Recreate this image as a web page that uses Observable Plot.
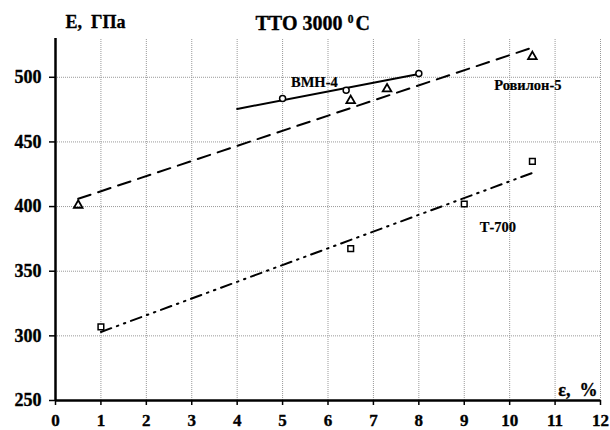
<!DOCTYPE html>
<html><head><meta charset="utf-8">
<script src="https://cdn.jsdelivr.net/npm/d3@7"></script>
<script src="https://cdn.jsdelivr.net/npm/@observablehq/plot@0.6"></script>
<style>body{margin:0;background:#fff}</style>
</head><body><div id="chart"></div>
<script>
const xTicks = [0,1,2,3,4,5,6,7,8,9,10,11,12];
const yTicks = [250,300,350,400,450,500];
const xGrid = [1,2,3,4,5,6,7,8,9,10,11,12];
const yGrid = [300,350,400,450,500];

const vmnX = [5, 6.4, 8];
const vmnY = [483.5, 490, 503];
const vmnLineX = [4, 8];
const vmnLineY = [475.5, 502.5];

const rovX = [0.5, 6.5, 7.3, 10.5];
const rovY = [401, 482, 491, 516];
const rovLineX = [0.5, 10.5];
const rovLineY = [406, 523];

const t7X = [1, 6.5, 9, 10.5];
const t7Y = [307, 367.5, 402, 435];
const t7LineX = [1, 10.5];
const t7LineY = [303, 426];

const labels = [
  {x: 5.7, y: 496, t: "ВМН-4"},
  {x: 10.4, y: 493.5, t: "Ровилон-5"},
  {x: 9.74, y: 384, t: "Т-700"}
];

const pts = (xs, ys) => xs.map((x, i) => ({x, y: ys[i]}));
const serif = "'Liberation Serif', 'Times New Roman', serif";
const bold = {fontWeight: "bold", fill: "#000", stroke: "#000", strokeWidth: 0.35};

const chart = Plot.plot({
  width: 610, height: 430,
  marginLeft: 55, marginRight: 10, marginTop: 38, marginBottom: 30,
  style: {fontFamily: serif, fontWeight: "bold", fontSize: "17px", color: "#000", background: "#fff"},
  x: {domain: [0, 12], axis: null},
  y: {domain: [250, 530], axis: null},
  marks: [
    Plot.ruleX(xGrid, {x: d => d, y1: 250, y2: 530, stroke: "#999", strokeDasharray: "1,1", strokeWidth: 1}),
    Plot.ruleY(yGrid, {y: d => d, x1: 0, x2: 12, stroke: "#999", strokeDasharray: "1,1", strokeWidth: 1}),
    Plot.axisX(xTicks, {label: null, tickSize: 5, tickFormat: () => "", strokeWidth: 1.5}),
    Plot.axisY(yTicks, {label: null, tickSize: 6, tickFormat: () => "", strokeWidth: 1.5}),
    Plot.text(xTicks, {x: d => d, frameAnchor: "bottom", lineAnchor: "middle", dy: 20.5, text: d => String(d), fontSize: 17, ...bold}),
    Plot.text(yTicks, {y: d => d, frameAnchor: "left", textAnchor: "end", lineAnchor: "middle", dx: -14, text: d => String(d), fontSize: 18, ...bold}),
    Plot.ruleY([250], {stroke: "#000", strokeWidth: 2.5}),
    Plot.ruleX([0], {stroke: "#000", strokeWidth: 2.5}),
    Plot.line(pts(vmnLineX, vmnLineY), {x: "x", y: "y", stroke: "#000", strokeWidth: 2}),
    Plot.line(pts(rovLineX, rovLineY), {x: "x", y: "y", stroke: "#000", strokeWidth: 2, strokeDasharray: "13,8"}),
    Plot.line(pts(t7LineX, t7LineY), {x: "x", y: "y", stroke: "#000", strokeWidth: 2, strokeDasharray: "11,6,1.5,6,1.5,6"}),
    Plot.dot(pts(vmnX, vmnY), {x: "x", y: "y", r: 3, stroke: "#000", strokeWidth: 1.5, fill: "#fff"}),
    Plot.dot(pts(rovX, rovY), {x: "x", y: "y", r: 3.2, symbol: "triangle", stroke: "#000", strokeWidth: 1.8, fill: "none"}),
    Plot.dot(pts(t7X, t7Y), {x: "x", y: "y", r: 3.2, symbol: "square", stroke: "#000", strokeWidth: 1.5, fill: "#fff"}),
    Plot.text(labels, {x: "x", y: "y", text: "t", fontSize: 14.5, fontWeight: "bold", fill: "#000", stroke: "#000", strokeWidth: 0.2}),
    Plot.text(["ТТО 3000"], {frameAnchor: "top-left", textAnchor: "end", lineAnchor: "middle", dx: 287, dy: -15, fontSize: 20, ...bold}),
    Plot.text(["0"], {frameAnchor: "top-left", textAnchor: "middle", lineAnchor: "middle", dx: 295, dy: -19, fontSize: 11.5, ...bold}),
    Plot.text(["С"], {frameAnchor: "top-left", textAnchor: "start", lineAnchor: "middle", dx: 300, dy: -15, fontSize: 20, ...bold}),
    Plot.text(["Е,  ГПа"], {frameAnchor: "top-left", textAnchor: "start", lineAnchor: "middle", dx: 10, dy: -16, fontSize: 18, ...bold}),
    Plot.text(["ε,  %"], {frameAnchor: "bottom-right", textAnchor: "end", lineAnchor: "middle", dx: -3, dy: -10, fontSize: 18, ...bold})
  ]
});
document.getElementById("chart").appendChild(chart);
</script>
</body></html>
